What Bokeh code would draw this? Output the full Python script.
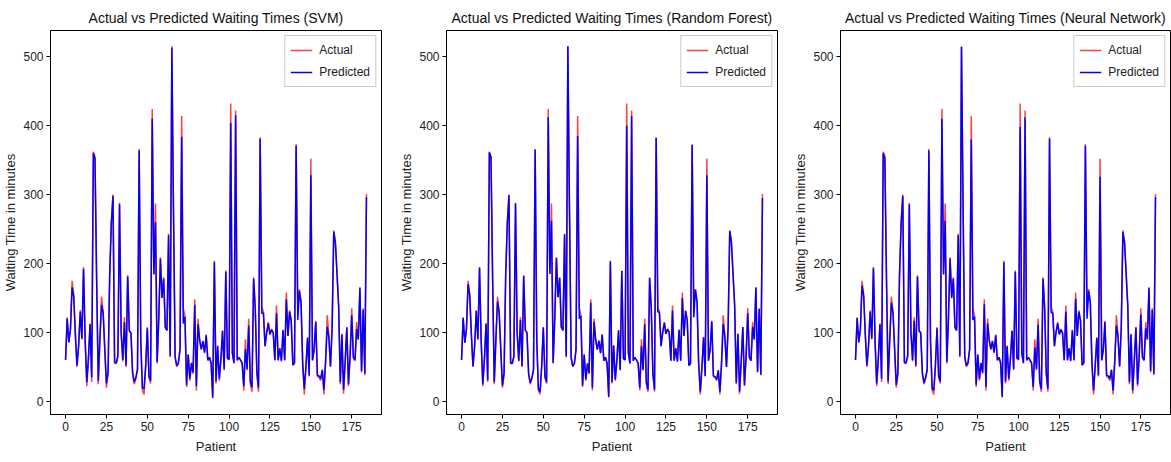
from bokeh.plotting import figure
from bokeh.layouts import row
from bokeh.models import Range1d, FixedTicker, Legend, LegendItem
from bokeh.embed import file_html
from bokeh.resources import INLINE

actual = [60, 122, 85, 105, 175, 155, 98, 50, 80, 132,
          90, 195, 88, 22, 62, 113, 28, 362, 355, 180,
          25, 90, 152, 130, 75, 20, 40, 185, 260, 300,
          55, 55, 65, 288, 100, 58, 122, 50, 183, 103,
          100, 40, 25, 33, 45, 366, 88, 16, 10, 50,
          108, 35, 26, 424, 185, 287, 55, 120, 209, 151,
          180, 108, 103, 243, 64, 515, 280, 64, 50, 55,
          75, 414, 135, 125, 21, 68, 30, 55, 40, 148,
          16, 120, 90, 75, 88, 70, 97, 59, 64, 55,
          8, 204, 26, 81, 30, 60, 103, 45, 190, 62,
          60, 432, 70, 55, 422, 59, 64, 60, 55, 16,
          90, 45, 120, 26, 14, 180, 137, 40, 14, 383,
          137, 130, 80, 100, 115, 98, 105, 100, 59, 139,
          59, 77, 58, 104, 59, 158, 95, 132, 118, 52,
          55, 373, 135, 163, 145, 55, 10, 50, 93, 36,
          352, 59, 75, 117, 36, 35, 30, 45, 10, 57,
          125, 95, 50, 107, 248, 232, 186, 140, 25, 98,
          11, 58, 108, 22, 65, 135, 64, 59, 115, 90,
          166, 42, 135, 38, 301]

pred_svm = [60, 120, 86, 104, 165, 152, 97, 52, 81, 130,
            91, 192, 88, 28, 63, 112, 35, 360, 352, 178,
            30, 90, 140, 128, 76, 26, 42, 183, 258, 298,
            57, 56, 66, 286, 100, 60, 115, 52, 181, 102,
            99, 42, 28, 35, 47, 364, 88, 20, 18, 52,
            106, 37, 30, 410, 184, 260, 57, 120, 207, 150,
            178, 107, 103, 241, 66, 513, 278, 65, 52, 56,
            76, 384, 113, 123, 24, 68, 33, 56, 42, 140,
            22, 112, 89, 76, 87, 71, 96, 60, 64, 56,
            5, 202, 29, 80, 33, 61, 102, 47, 188, 63,
            61, 404, 70, 56, 415, 60, 64, 60, 56, 22,
            76, 47, 110, 29, 20, 178, 135, 42, 20, 381,
            128, 128, 80, 100, 113, 97, 104, 99, 60, 128,
            60, 77, 59, 103, 60, 148, 95, 130, 117, 53,
            56, 371, 118, 160, 143, 56, 18, 51, 92, 38,
            328, 60, 75, 115, 38, 37, 33, 46, 17, 58,
            108, 94, 51, 106, 246, 230, 185, 138, 28, 97,
            17, 59, 107, 25, 66, 125, 64, 60, 105, 90,
            164, 44, 133, 40, 296]

pred_rf = [60, 121, 85, 105, 170, 154, 98, 51, 80, 131,
           90, 194, 88, 25, 62, 113, 31, 361, 354, 179,
           28, 90, 145, 129, 75, 23, 41, 184, 259, 299,
           56, 55, 65, 287, 100, 59, 118, 51, 182, 103,
           100, 41, 27, 34, 46, 365, 88, 18, 14, 51,
           107, 36, 28, 412, 185, 262, 56, 120, 208, 151,
           179, 108, 103, 242, 65, 515, 279, 64, 51, 55,
           75, 385, 120, 124, 23, 68, 32, 55, 41, 143,
           20, 115, 90, 75, 88, 70, 97, 59, 64, 55,
           6, 203, 28, 81, 32, 60, 103, 46, 189, 62,
           60, 400, 70, 55, 414, 59, 64, 60, 55, 20,
           80, 46, 112, 28, 17, 179, 136, 41, 17, 382,
           130, 129, 80, 100, 114, 98, 105, 100, 59, 132,
           59, 77, 58, 104, 59, 150, 95, 131, 118, 52,
           55, 372, 122, 162, 144, 55, 14, 50, 93, 37,
           328, 59, 75, 116, 37, 36, 32, 45, 14, 57,
           112, 95, 50, 107, 247, 231, 186, 139, 27, 98,
           14, 58, 108, 24, 65, 128, 64, 59, 108, 90,
           165, 43, 134, 39, 295]

pred_nn = [60, 121, 86, 104, 168, 153, 97, 52, 81, 130,
           91, 193, 88, 26, 63, 112, 33, 360, 353, 178,
           29, 90, 143, 128, 76, 24, 42, 183, 258, 298,
           57, 56, 66, 286, 100, 60, 117, 52, 181, 102,
           99, 42, 27, 35, 47, 364, 88, 19, 16, 52,
           106, 37, 29, 410, 184, 262, 57, 120, 207, 150,
           178, 107, 103, 241, 66, 514, 278, 65, 52, 56,
           76, 380, 118, 123, 24, 68, 33, 56, 42, 141,
           21, 113, 89, 76, 87, 71, 96, 60, 64, 56,
           6, 202, 29, 80, 33, 61, 102, 47, 188, 63,
           61, 398, 70, 56, 412, 60, 64, 60, 56, 21,
           78, 47, 111, 29, 18, 178, 135, 42, 18, 381,
           129, 128, 80, 100, 113, 97, 104, 99, 60, 130,
           60, 77, 59, 103, 60, 149, 95, 130, 117, 53,
           56, 371, 120, 160, 143, 56, 16, 51, 92, 38,
           326, 60, 75, 115, 38, 37, 33, 46, 16, 58,
           110, 94, 51, 106, 246, 230, 185, 138, 28, 97,
           16, 59, 107, 25, 66, 126, 64, 60, 106, 90,
           164, 44, 133, 40, 296]

patients = list(range(len(actual)))
model_names = ["SVM", "Random Forest", "Neural Network"]
x_ticks = [0, 25, 50, 75, 100, 125, 150, 175]
y_ticks = [0, 100, 200, 300, 400, 500]

FONT = "Liberation Sans"


def make(name, pred, width, left, right):
    p = figure(width=width, height=462,
               x_range=Range1d(-9.2, 193.2), y_range=Range1d(-19, 538),
               output_backend="svg", toolbar_location=None,
               min_border_left=left, min_border_right=right,
               min_border_top=30, min_border_bottom=48)
    p.title.text = "Actual vs Predicted Waiting Times (" + name + ")"
    p.title.align = "center"
    p.title.text_font = FONT
    p.title.text_font_size = "14px"
    p.title.text_font_style = "normal"
    p.title.text_color = "#111111"
    p.background_fill_color = "white"
    p.border_fill_color = "white"
    p.outline_line_color = "black"
    p.outline_line_width = 1
    p.outline_line_alpha = 1
    p.xgrid.visible = False
    p.ygrid.visible = False

    r1 = p.line(patients, actual, line_color="#ff0000", line_alpha=0.75, line_width=1.5)
    r2 = p.line(patients, pred, line_color="#0000ff", line_alpha=1.0, line_width=1.5)

    for ax in (p.xaxis[0], p.yaxis[0]):
        ax.major_label_text_font = FONT
        ax.major_label_text_font_size = "12px"
        ax.major_label_text_color = "#222222"
        ax.axis_label_text_font = FONT
        ax.axis_label_text_font_size = "13px"
        ax.axis_label_text_font_style = "normal"
        ax.axis_label_text_color = "#222222"
        ax.minor_tick_line_color = None
        ax.major_tick_out = 4
        ax.major_tick_in = 0
        ax.axis_line_color = "black"
        ax.major_tick_line_color = "black"
        ax.major_label_standoff = 3
    p.xaxis.ticker = FixedTicker(ticks=x_ticks)
    p.yaxis.ticker = FixedTicker(ticks=y_ticks)
    p.xaxis.axis_label = "Patient"
    p.yaxis.axis_label = "Waiting Time in minutes"
    p.xaxis.axis_label_standoff = 5
    p.yaxis.axis_label_standoff = 2

    legend = Legend(items=[LegendItem(label="Actual", renderers=[r1]),
                           LegendItem(label="Predicted", renderers=[r2])],
                    location="top_right")
    legend.label_text_font = FONT
    legend.label_text_font_size = "12px"
    legend.label_text_color = "#222222"
    legend.border_line_color = "#cccccc"
    legend.border_line_alpha = 1
    legend.background_fill_alpha = 0.9
    legend.margin = 5
    legend.padding = 5
    legend.spacing = 4
    legend.label_height = 18
    legend.glyph_height = 18
    legend.glyph_width = 22
    legend.label_standoff = 7
    p.add_layout(legend)
    return p


p1 = make(model_names[0], pred_svm, 396, 50, 15)
p2 = make(model_names[1], pred_rf, 394, 50, 13)
p3 = make(model_names[2], pred_nn, 381, 50, 1)

layout = row(p1, p2, p3)
open("out.html", "w").write(file_html(layout, INLINE))
